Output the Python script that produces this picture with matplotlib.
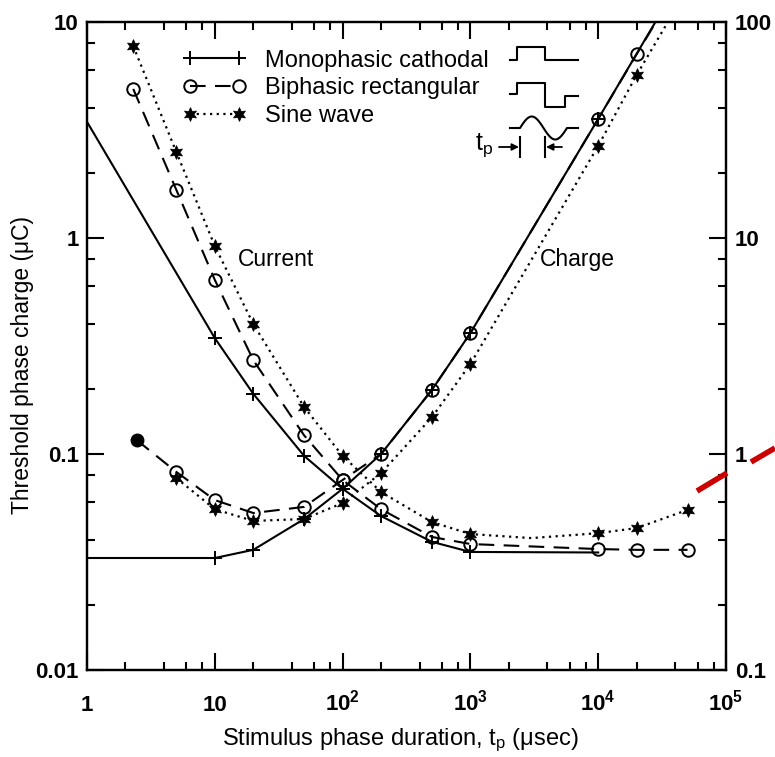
import matplotlib
matplotlib.use('Agg')
import matplotlib.pyplot as plt
import numpy as np
from matplotlib.lines import Line2D
from matplotlib.ticker import LogLocator, NullFormatter, FixedLocator, FixedFormatter

plt.rcParams['font.family'] = ['Liberation Sans', 'DejaVu Sans']
plt.rcParams['mathtext.fontset'] = 'custom'
plt.rcParams['mathtext.rm'] = 'Liberation Sans'
plt.rcParams['mathtext.it'] = 'Liberation Sans:italic'
plt.rcParams['mathtext.bf'] = 'Liberation Sans:bold'

# threshold phase charge (uC) and current (left-axis units, mA/10) vs phase duration (usec)
mono_q_tp = [1, 10, 20, 50, 100, 200, 500, 1000, 1e4, 3e4]
mono_q = [0.033, 0.033, 0.036, 0.050, 0.069, 0.100, 0.198, 0.363, 3.56, 10.7]
mono_i_tp = [1, 10, 20, 50, 100, 200, 500, 1000, 1e4]
mono_i = [3.45, 0.344, 0.19, 0.098, 0.069, 0.0516, 0.0392, 0.0352, 0.035]

bi_q_tp = [2.45, 5, 10, 20, 50, 100, 200, 500, 1000, 1e4, 2e4, 3e4]
bi_q = [0.116, 0.0826, 0.0612, 0.0533, 0.0569, 0.0758, 0.100, 0.198, 0.363, 3.56, 7.1, 10.6]
bi_i_tp = [2.3, 5, 10, 20, 50, 100, 200, 500, 1000, 1e4, 2e4, 5e4]
bi_i = [4.9, 1.67, 0.64, 0.272, 0.122, 0.0758, 0.0555, 0.0413, 0.0383, 0.0363, 0.036, 0.036]

sine_q_tp = [5, 10, 20, 50, 100, 200, 500, 1000, 1e4, 2e4, 4e4]
sine_q = [0.0774, 0.0555, 0.049, 0.050, 0.0593, 0.0816, 0.148, 0.261, 2.67, 5.69, 11.4]
sine_i_tp = [2.3, 5, 10, 20, 50, 100, 200, 500, 1000, 3000, 1e4, 2e4, 5e4]
sine_i = [7.74, 2.5, 0.918, 0.40, 0.165, 0.098, 0.0667, 0.0484, 0.0426, 0.0408, 0.043, 0.0454, 0.0551]

series_names = ['Monophasic cathodal', 'Biphasic rectangular', 'Sine wave']
x_ticks = [1, 10, 100, 1e3, 1e4, 1e5]
x_labels = ['1', '10', r'$\mathbf{10^2}$', r'$\mathbf{10^3}$', r'$\mathbf{10^4}$', r'$\mathbf{10^5}$']
left_ticks = [0.01, 0.1, 1, 10]
left_labels = ['0.01', '0.1', '1', '10']
right_ticks = [0.1, 1, 10, 100]
right_labels = ['0.1', '1', '10', '100']

mono_style = dict(color='k', ls='-', lw=1.5, marker='+', ms=10, mew=1.4)
bi_style = dict(color='k', ls=(0, (7.5, 4.5)), lw=1.5, marker='o', ms=9, mew=1.4, mfc='none')
sine_style = dict(color='k', ls=(0, (1, 2)), lw=1.6, marker=(6, 1, 0), ms=10, mew=0.5)

fig = plt.figure(figsize=(7.75, 7.57), dpi=100)
ax = fig.add_axes([87 / 775, 87 / 757, 639 / 775, 648 / 757])
ax.set_xscale('log')
ax.set_yscale('log')

ax.plot(mono_q_tp, mono_q, markevery=list(range(1, 9)), **mono_style)
ax.plot(mono_i_tp, mono_i, markevery=list(range(1, 8)), **mono_style)
ax.plot(bi_q_tp, bi_q, markevery=list(range(1, 11)), **bi_style)
ax.plot(bi_q_tp[:1], bi_q[:1], 'o', color='k', ms=9)
ax.plot(bi_i_tp, bi_i, **bi_style)
ax.plot(sine_q_tp, sine_q, markevery=list(range(0, 10)), **sine_style)
ax.plot(sine_i_tp, sine_i, markevery=[0, 1, 2, 3, 4, 5, 6, 7, 8, 10, 11, 12], **sine_style)

ax.set_xlim(1, 1e5)
ax.set_ylim(0.01, 10)

ax.xaxis.set_major_locator(FixedLocator(x_ticks))
ax.xaxis.set_major_formatter(FixedFormatter(x_labels))
ax.yaxis.set_major_locator(FixedLocator(left_ticks))
ax.yaxis.set_major_formatter(FixedFormatter(left_labels))
for a in (ax.xaxis, ax.yaxis):
    a.set_minor_locator(LogLocator(base=10, subs=(2, 4, 6, 8), numticks=20))
    a.set_minor_formatter(NullFormatter())

ax.tick_params(which='both', direction='in', top=True, right=False, width=1.5)
ax.tick_params(which='major', length=12)
ax.tick_params(which='minor', length=6)
ax.tick_params(axis='x', pad=29.5, labelsize=16)
ax.tick_params(axis='y', pad=6, labelsize=16)
for t in ax.get_xticklabels():
    t.set_fontweight('bold')
    t.set_verticalalignment('baseline')
for t in ax.get_yticklabels():
    t.set_fontweight('bold')
for s in ax.spines.values():
    s.set_linewidth(1.6)

ax2 = ax.twinx()
ax2.set_yscale('log')
ax2.set_ylim(0.1, 100)
ax2.yaxis.set_major_locator(FixedLocator(right_ticks))
ax2.yaxis.set_major_formatter(FixedFormatter(right_labels))
ax2.yaxis.set_minor_locator(LogLocator(base=10, subs=(2, 4, 6, 8), numticks=20))
ax2.yaxis.set_minor_formatter(NullFormatter())
ax2.tick_params(which='both', direction='in', width=1.5, pad=6.5, labelsize=16)
ax2.tick_params(which='major', length=12)
ax2.tick_params(which='minor', length=6)
for t in ax2.get_yticklabels():
    t.set_fontweight('bold')
for s in ax2.spines.values():
    s.set_linewidth(1.6)

ax.set_xlabel(r'Stimulus phase duration, $\mathregular{t_p}$ (μsec)', fontsize=17)
ax.xaxis.set_label_coords(0.49, -0.087)
ax.set_ylabel('Threshold phase charge (μC)', fontsize=16.5)
ax.yaxis.set_label_coords(-0.083, 0.47)

ax.text(0.296, 0.634, 'Current', transform=ax.transAxes, ha='center', va='center', fontsize=16.5)
ax.text(0.768, 0.633, 'Charge', transform=ax.transAxes, ha='center', va='center', fontsize=16.5)

handles = [Line2D([], [], **mono_style), Line2D([], [], **bi_style), Line2D([], [], **sine_style)]
ax.legend(handles, series_names, loc='upper left', bbox_to_anchor=(0.150, 0.9575),
          frameon=False, fontsize=17, numpoints=2, handlelength=2.67, handletextpad=0.8,
          labelspacing=0.25, borderpad=0, borderaxespad=0)

# overlay in image pixel coordinates for the waveform icons and the red mark
ov = fig.add_axes([0, 0, 1, 1], zorder=5)
ov.set_xlim(0, 775)
ov.set_ylim(757, 0)
ov.axis('off')
ov.patch.set_alpha(0)

ov.plot([510, 517, 517, 545, 545, 578], [60, 60, 47, 47, 60, 60], 'k-', lw=1.5)
ov.plot([510, 517, 517, 545, 545, 565, 565, 578], [94, 94, 83, 83, 107, 107, 96, 96], 'k-', lw=1.5)
sx = np.linspace(520, 567, 60)
ov.plot(np.r_[510, sx, 578], np.r_[128, 128 - 11.5 * np.sin(2 * np.pi * (sx - 520) / 47), 128], 'k-', lw=1.5)
ov.plot([520, 520], [137, 157], 'k-', lw=1.5)
ov.plot([545, 545], [137, 157], 'k-', lw=1.5)
arrow = dict(arrowstyle='-|>', color='k', lw=1.3, mutation_scale=10, shrinkA=0, shrinkB=0)
ov.annotate('', xy=(519, 147), xytext=(499, 147), arrowprops=arrow)
ov.annotate('', xy=(546, 147), xytext=(562, 147), arrowprops=arrow)
ov.text(484, 145, r'$\mathregular{t_p}$', fontsize=18, ha='center', va='center')

ov.plot([697, 727], [491, 473], color='#cc0000', lw=4, solid_capstyle='butt')
ov.plot([751, 775], [462, 448], color='#cc0000', lw=4, solid_capstyle='butt')

fig.savefig('out.png', dpi=100)
